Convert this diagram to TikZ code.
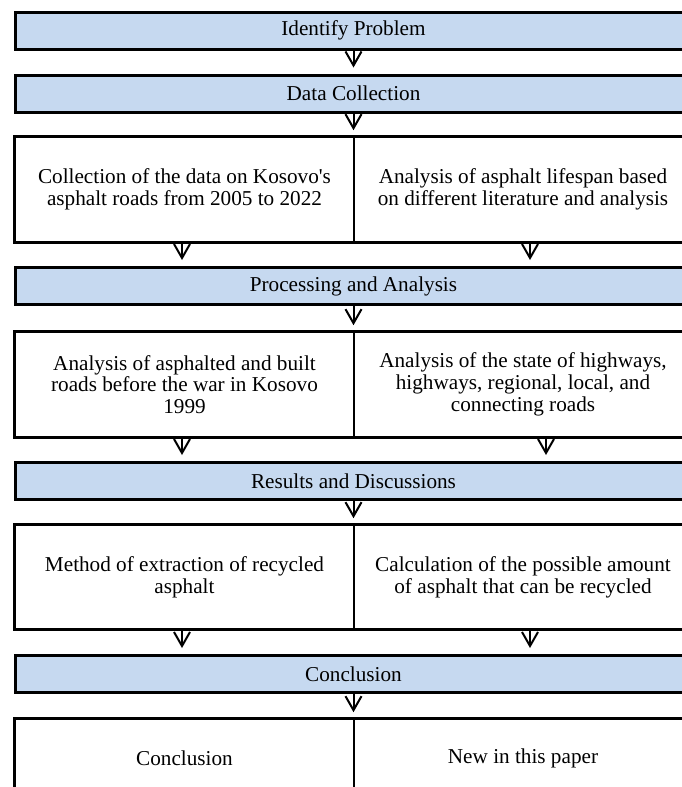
\documentclass[tikz,border=0pt]{standalone}
\usepackage{fontspec}
\setmainfont{Liberation Serif}
\usetikzlibrary{arrows.meta}
\definecolor{barblue}{RGB}{198,217,240}

\begin{document}
\begin{tikzpicture}[x=0.5pt, y=-0.5pt,
  stagebar/.style={draw, line width=1.5pt, fill=barblue, minimum width=338.5pt,
    minimum height=18.5pt, inner sep=0pt, font=\fontsize{10.6}{10.9}\selectfont},
  cell/.style={draw, line width=0.8pt, minimum width=169pt, minimum height=52.5pt,
    inner sep=0pt, align=center, font=\fontsize{10.6}{10.9}\selectfont},
  rowframe/.style={line width=1.5pt},
  flowarrow/.style={-{Straight Barb[length=7pt,width=8pt]}, line width=1pt, shorten >=3pt}]

  \useasboundingbox (0,0) rectangle (681,787);

  % Draw the stage bars
  \node[stagebar] (idp)   at (353.5,30.5) {Identify Problem};
  \node[stagebar] (dcol)  at (353.5,93.5) {Data Collection};
  \node[stagebar] (proc)  at (353.5,286)  {Processing and Analysis};
  \node[stagebar] (res)   at (353.5,481)  {Results and Discussions};
  \node[stagebar] (concl) at (353.5,674)  {Conclusion};

  % Add the two-column rows
  \node[cell] (dcolL) at (184.5,189.5) {Collection of the data on Kosovo\textquotesingle s\\asphalt roads from 2005 to 2022};
  \node[cell] (dcolR) at (523,189.5) {Analysis of asphalt lifespan based\\on different literature and analysis};
  \node[cell] (procL) at (184.5,384.5) {Analysis of asphalted and built\\roads before the war in Kosovo\\1999};
  \node[cell] (procR) at (523,384.5) {Analysis of the state of highways,\\highways, regional, local, and\\connecting roads};
  \node[cell, minimum height=52pt] (resL) at (184.5,577) {Method of extraction of recycled\\asphalt};
  \node[cell, minimum height=52pt] (resR) at (523,577) {Calculation of the possible amount\\of asphalt that can be recycled};
  \node[cell, minimum height=39pt] (conL) at (184.5,758) {Conclusion};
  \node[cell, minimum height=39pt] (conR) at (523,758) {New in this paper};

  % Thick frame round each row
  \draw[rowframe] (dcolL.north west) rectangle (dcolR.south east);
  \draw[rowframe] (procL.north west) rectangle (procR.south east);
  \draw[rowframe] (resL.north west) rectangle (resR.south east);
  \draw[rowframe] (conL.north west) rectangle (conR.south east);

  % Add arrows down the middle
  \draw[flowarrow] (idp.south) -- (dcol.north);
  \draw[flowarrow] (dcol.south) -- (dcol.south |- dcolL.north);
  \draw[flowarrow] (proc.south) -- (proc.south |- procL.north);
  \draw[flowarrow] (res.south) -- (res.south |- resL.north);
  \draw[flowarrow] (concl.south) -- (concl.south |- conL.north);

  % Add arrows from each column
  \draw[flowarrow] ([xshift=-1.25pt]dcolL.south) -- ([xshift=-1.25pt]dcolL.south |- proc.north);
  \draw[flowarrow] ([xshift=3.5pt]dcolR.south) -- ([xshift=3.5pt]dcolR.south |- proc.north);
  \draw[flowarrow] ([xshift=-1.25pt]procL.south) -- ([xshift=-1.25pt]procL.south |- res.north);
  \draw[flowarrow] ([xshift=11.5pt]procR.south) -- ([xshift=11.5pt]procR.south |- res.north);
  \draw[flowarrow] ([xshift=-1.25pt]resL.south) -- ([xshift=-1.25pt]resL.south |- concl.north);
  \draw[flowarrow] ([xshift=3.5pt]resR.south) -- ([xshift=3.5pt]resR.south |- concl.north);
\end{tikzpicture}
\end{document}
